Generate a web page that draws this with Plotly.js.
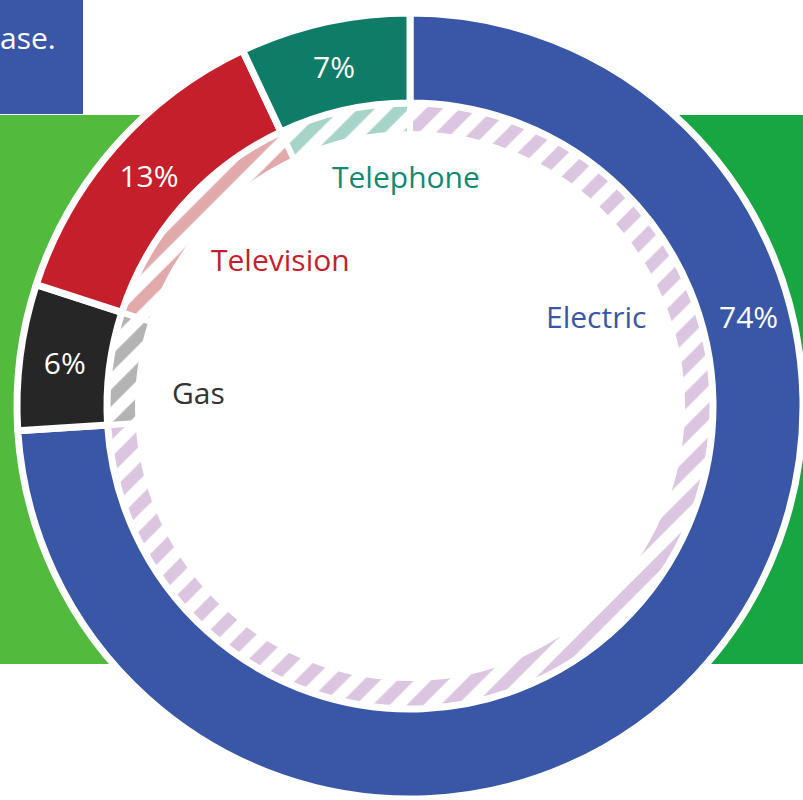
<!DOCTYPE html>
<html><head><meta charset="utf-8">
<script src="https://cdn.plot.ly/plotly-3.0.1.min.js"></script>
<style>html,body{margin:0;padding:0;overflow:hidden;background:#fff}#chart{width:803px;height:800px}</style>
</head><body><div id="chart"></div>
<script>
// ---- data ----
const categories = ['Electric', 'Gas', 'Television', 'Telephone'];
const shares = [74, 6, 13, 7];
const sliceColors = ['#3a57a7', '#262626', '#c51f2b', '#0e7c66'];
const stripeColors = ['#dcc5e0', '#b3b3b3', '#e2a9ab', '#a6d4c9'];
const labelColors = ['#3a57a7', '#333333', '#c51f2b', '#128a70'];
const headerText = 'ase.';

// ---- layout geometry (pixels) ----
const W = 803, H = 800;
const cx = 410, cy = 406, R = 393, r0 = 303, rs = 272;
const px = x => x / W;
const py = y => 1 - y / H;

const mainPie = {
  type: 'pie', values: shares, labels: categories, sort: false,
  direction: 'clockwise', rotation: 0, hole: r0 / R,
  domain: {x: [px(cx - R), Math.min(1, px(cx + R))], y: [Math.max(0, py(cy + R)), py(cy - R)]},
  marker: {colors: sliceColors, line: {color: '#ffffff', width: 7}},
  texttemplate: shares.map((v, i) => i === 0 ? '' : '%{value}%'),
  textposition: 'inside', insidetextorientation: 'horizontal',
  textfont: {color: '#ffffff', size: 30, family: 'Open Sans'},
  hoverinfo: 'skip', showlegend: false
};

const stripePie = {
  type: 'pie', values: shares, labels: categories, sort: false,
  direction: 'clockwise', rotation: 0, hole: rs / r0,
  domain: {x: [px(cx - r0), px(cx + r0)], y: [py(cy + r0), py(cy - r0)]},
  marker: {
    colors: stripeColors,
    line: {color: '#ffffff', width: 6},
    pattern: {shape: '/', fgcolor: stripeColors, bgcolor: '#ffffff', size: 24, solidity: 0.5, fillmode: 'replace'}
  },
  textinfo: 'none', hoverinfo: 'skip', showlegend: false
};

const labelPos = [[596, 316], [198, 392], [280, 260], [406, 177]];
const annotations = categories.map((c, i) => ({
  text: c, xref: 'paper', yref: 'paper', x: px(labelPos[i][0]), y: py(labelPos[i][1]),
  xanchor: 'center', yanchor: 'middle', showarrow: false,
  font: {family: 'Open Sans', size: 30, color: labelColors[i]}
}));
annotations.push({
  text: shares[0] + '%', xref: 'paper', yref: 'paper', x: px(748), y: py(316),
  xanchor: 'center', yanchor: 'middle', showarrow: false,
  font: {family: 'Open Sans', size: 30, color: '#ffffff'}
});
annotations.push({
  text: headerText, xref: 'paper', yref: 'paper', x: px(58), y: py(37),
  xanchor: 'right', yanchor: 'middle', showarrow: false,
  font: {family: 'Open Sans', size: 30, color: '#ffffff'}
});

const shapes = [
  {type: 'rect', layer: 'below', xref: 'paper', yref: 'paper', x0: 0, x1: 0.5, y0: py(664), y1: py(115), fillcolor: '#52bb3d', line: {width: 0}},
  {type: 'rect', layer: 'below', xref: 'paper', yref: 'paper', x0: 0.5, x1: 1, y0: py(664), y1: py(115), fillcolor: '#17a641', line: {width: 0}},
  {type: 'rect', layer: 'below', xref: 'paper', yref: 'paper', x0: 0, x1: px(83), y0: py(114), y1: 1, fillcolor: '#3a57a7', line: {width: 0}},
  {type: 'circle', layer: 'below', xref: 'paper', yref: 'paper', xsizemode: 'pixel', ysizemode: 'pixel',
   xanchor: px(cx), yanchor: py(cy), x0: -r0, x1: r0, y0: -r0, y1: r0, fillcolor: '#ffffff', line: {width: 0}}
];

const layout = {
  width: W, height: H, margin: {l: 0, r: 0, t: 0, b: 0},
  paper_bgcolor: '#ffffff', plot_bgcolor: '#ffffff', showlegend: false,
  shapes: shapes, annotations: annotations
};

Plotly.newPlot('chart', [stripePie, mainPie], layout, {displayModeBar: false, staticPlot: true});
</script>
</body></html>
